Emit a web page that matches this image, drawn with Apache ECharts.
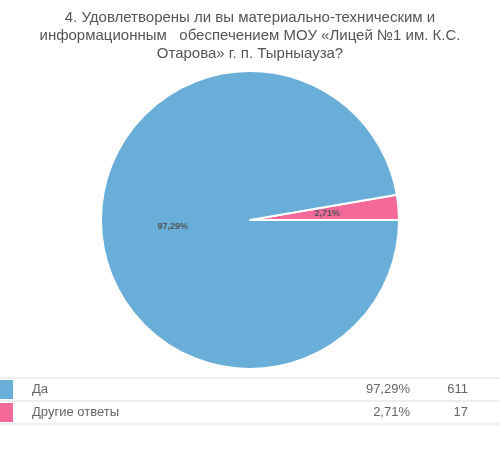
<!DOCTYPE html>
<html>
<head>
<meta charset="utf-8">
<script src="https://cdn.jsdelivr.net/npm/echarts@6/dist/echarts.min.js"></script>
<style>html,body{margin:0;padding:0;background:#fff}#chart{width:500px;height:451px}</style>
</head>
<body>
<div id="chart"></div>
<script>
// answer categories and values
var categories = ['Другие ответы', 'Да'];
var counts = [17, 611];
var percents = ['2,71%', '97,29%'];
var colors = ['#f2699a', '#68aed9'];

// table rows, in order shown
var tableOrder = [1, 0];

var chart = echarts.init(document.getElementById('chart'));

var rows = [];
var rowY = [378, 401];
tableOrder.forEach(function (idx, i) {
    var y = rowY[i];
    rows.push({type: 'line', shape: {x1: 0, y1: y, x2: 500, y2: y}, style: {stroke: '#ddd', lineWidth: 1}});
    rows.push({type: 'rect', shape: {x: 0, y: y + 2, width: 13, height: 19}, style: {fill: colors[idx]}});
    rows.push({type: 'text', x: 32, y: y + 11.5, style: {text: categories[idx], fill: '#666', font: '13px Arial', textVerticalAlign: 'middle'}});
    rows.push({type: 'text', x: 410, y: y + 11.5, style: {text: percents[idx], fill: '#666', font: '13px Arial', textAlign: 'right', textVerticalAlign: 'middle'}});
    rows.push({type: 'text', x: 468, y: y + 11.5, style: {text: String(counts[idx]), fill: '#666', font: '13px Arial', textAlign: 'right', textVerticalAlign: 'middle'}});
});
rows.push({type: 'line', shape: {x1: 0, y1: 424, x2: 500, y2: 424}, style: {stroke: '#ddd', lineWidth: 1}});

chart.setOption({
    animation: false,
    title: {
        text: '4. Удовлетворены ли вы материально-техническим и\nинформационным   обеспечением МОУ «Лицей №1 им. К.С.\nОтарова» г. п. Тырныауза?',
        left: 'center',
        top: 4,
        textStyle: {color: '#555', fontSize: 15, fontWeight: 'normal', fontFamily: 'Arial', lineHeight: 18}
    },
    series: [{
        type: 'pie',
        center: [250, 220],
        radius: 149,
        startAngle: 9.76,
        clockwise: true,
        itemStyle: {borderColor: '#fff', borderWidth: 2},
        label: {
            position: 'inside',
            color: '#555',
            fontSize: 9,
            fontWeight: 'bold',
            fontFamily: 'Arial',
            formatter: function (p) { return percents[p.dataIndex]; }
        },
        labelLine: {show: false},
        data: categories.map(function (c, i) {
            return {name: c, value: counts[i], itemStyle: {color: colors[i]}};
        })
    }],
    graphic: rows
});
</script>
</body>
</html>
